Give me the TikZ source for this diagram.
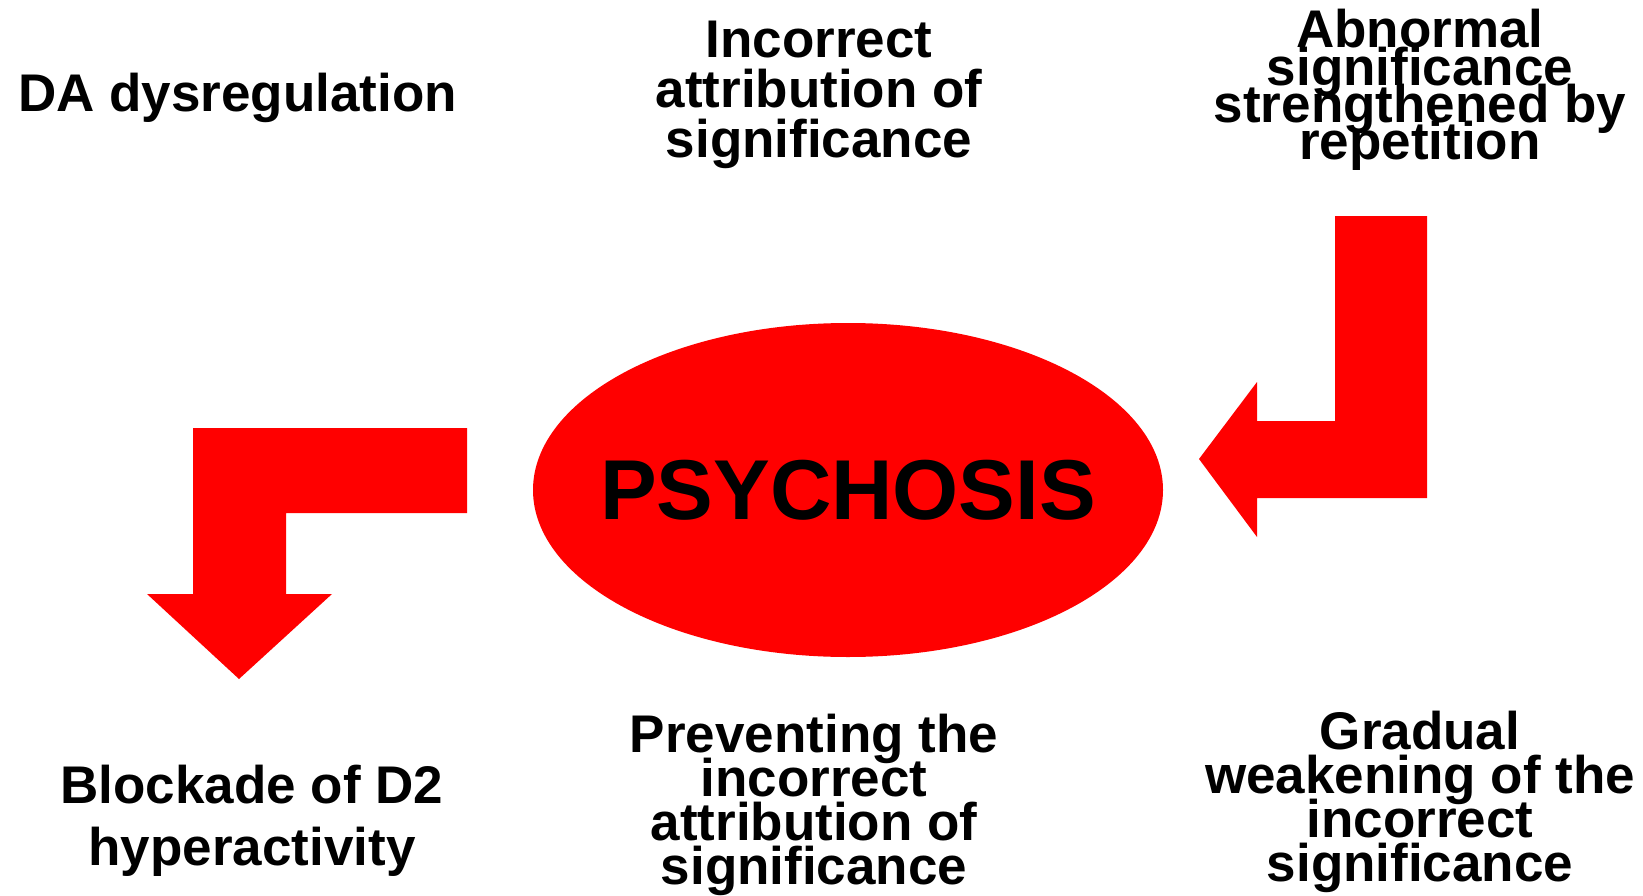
\documentclass[tikz,border=0pt]{standalone}
\usepackage{fontspec}
\setmainfont{Liberation Sans}
\usetikzlibrary{shapes.geometric}
\newcommand\mytightlines{\lineskiplimit=-200pt\relax\lineskip=0pt\relax}
\begin{document}
\begin{tikzpicture}[x=1pt,y=-1pt,
  lbl/.style={font=\bfseries\fontsize{53}{#1}\selectfont\mytightlines, align=center, inner sep=0pt, anchor=base},
  bigarrow/.style={fill=red, draw=none}]
\useasboundingbox (0,0) rectangle (1643,896);
% arrows
\fill[bigarrow] (467,428) -- (193,428) -- (193,594) -- (147,594) -- (239,679) -- (332,594) -- (286,594) -- (286,513) -- (467,513) -- cycle;
\fill[bigarrow] (1335,216) -- (1427,216) -- (1427,498) -- (1257,498) -- (1257,537) -- (1199,459) -- (1257,382) -- (1257,421) -- (1335,421) -- cycle;
% central ellipse
\node[ellipse, fill=red, inner sep=0pt, minimum width=630pt, minimum height=334pt] (psy) at (848,490) {};
\node[font=\bfseries\fontsize{85}{90}\selectfont, inner sep=0pt] (psytext) at (psy.center) {PSYCHOSIS};
% labels
\node[lbl=50, anchor=base west] (da) at (18,112) {DA dysregulation};
\node[lbl=50] (inc) at (819,158) {Incorrect\\attribution of\\significance};
\node[lbl=37.4] (abn) at (1420,160) {Abnormal\\significance\\strengthened by\\repetition};
\node[lbl=62] (blk) at (252,865) {Blockade of D2\\hyperactivity};
\node[lbl=44] (prev) at (814,884) {Preventing the\\incorrect\\attribution of\\significance};
\node[lbl=44] (grad) at (1420,881) {Gradual\\weakening of the\\incorrect\\significance};
\end{tikzpicture}
\end{document}
